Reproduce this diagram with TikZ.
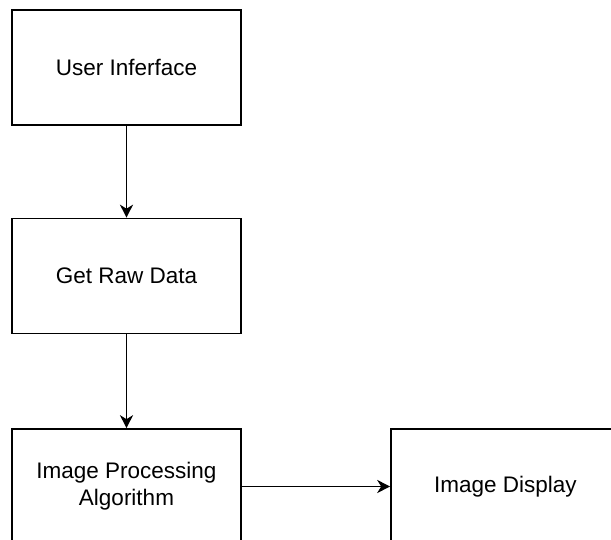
\documentclass[tikz,border=0pt]{standalone}
\usepackage{fontspec}
\setmainfont{Liberation Sans}
\usetikzlibrary{arrows.meta}
\begin{document}
\begin{tikzpicture}[x=1pt,y=-1pt,
  box/.style={draw=black,line width=1.6pt,minimum width=229pt,minimum height=115pt,inner sep=0pt,align=center,font=\fontsize{22.5}{27}\selectfont,fill=white},
  conn/.style={line width=1.6pt,-{Stealth[length=13pt,width=13pt,inset=4pt]}}]
\useasboundingbox (0,0) rectangle (611,540);
\node[box] (ui) at (126.5,67.5) {User Inferface};
\node[box] (grd) at (126.5,276) {Get Raw Data};
\node[box] (ipa) at (126.5,486.5) {Image Processing\\Algorithm};
\node[box] (id) at (505.5,486.5) {Image Display};
\draw[conn] (ui) -- (grd);
\draw[conn] (grd) -- (ipa);
\draw[conn] (ipa) -- (id);
\end{tikzpicture}
\end{document}
